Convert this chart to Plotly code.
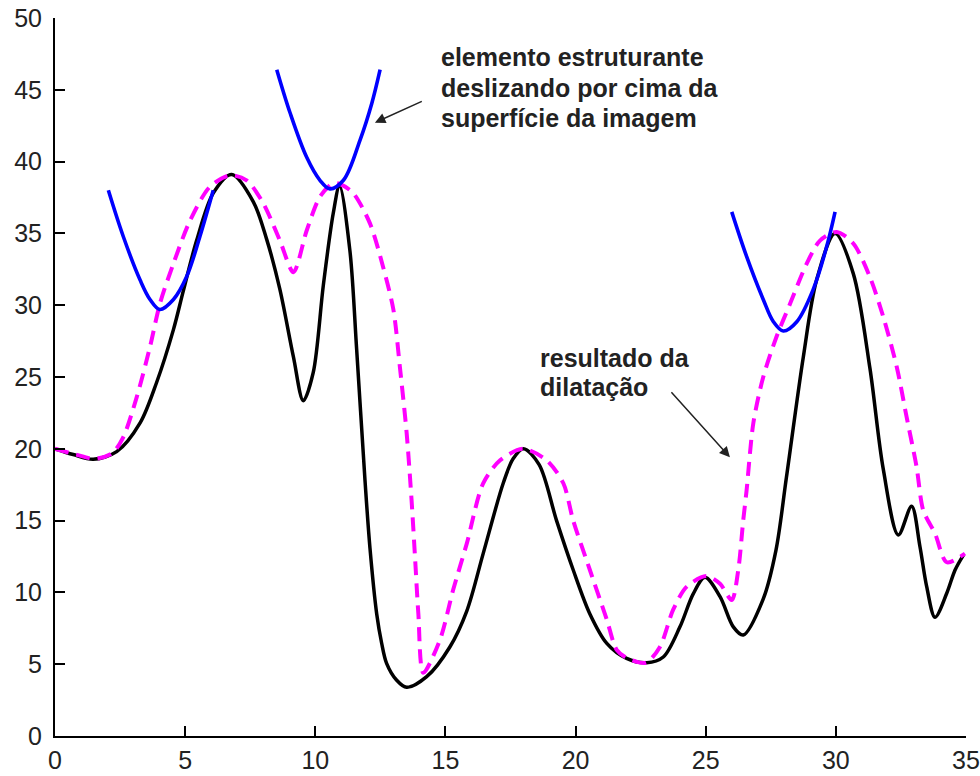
import plotly.graph_objects as go

# ---- original signal (black) ----
sig_x = [0, 0.7, 1.47, 2.37, 3.27, 3.9, 4.55, 4.93, 5.44, 6.08, 6.79, 7.62, 8.13, 8.64, 9.16, 9.54,
         9.92, 10.31, 10.69, 10.93, 11.33, 11.59, 11.91, 12.1, 12.36, 12.55, 12.74, 13.12, 13.51, 14.28,
         15.17, 15.82, 16.45, 17.22, 17.6, 18.0, 18.6, 19.27, 19.91, 20.55, 21.2, 21.96, 22.73, 23.37,
         24.01, 24.52, 24.97, 25.55, 26.06, 26.44, 27.2, 27.7, 28.1, 28.75, 29.26, 29.97, 30.67,
         31.31, 31.82, 32.4, 32.91, 33.23, 33.49, 33.81, 34.26, 34.58, 34.9]
sig_y = [20.0, 19.6, 19.27, 19.8, 21.8, 24.6, 28.3, 31.0, 34.5, 37.8, 39.1, 37.2, 34.6, 31.1, 26.4, 23.35,
         25.3, 31.4, 36.4, 38.3, 33.8, 26.9, 17.8, 13.1, 8.5, 6.46, 5.06, 3.9, 3.39, 4.13,
         6.2, 8.7, 12.7, 17.6, 19.3, 20.0, 18.9, 15.0, 11.56, 8.5, 6.45, 5.4, 5.1, 5.5,
         7.6, 9.9, 11.05, 9.7, 7.6, 7.03, 9.5, 12.95, 18.0, 26.4, 31.75, 35.0, 32.2,
         25.6, 18.6, 14.0, 16.0, 13.2, 10.4, 8.27, 9.94, 11.56, 12.6]

# ---- dilation result (magenta dashed) ----
dil_x = [0, 0.8, 1.5, 2.2, 2.62, 3.14, 3.65, 4.03, 4.55, 5.19, 5.95, 6.72, 7.36, 8.0, 8.64, 9.16,
         9.67, 10.18, 10.69, 11.0, 11.46, 12.1, 12.6, 13.0, 13.25, 13.51, 13.7, 13.83, 13.96, 14.15,
         14.79, 15.3, 15.82, 16.45, 17.1, 17.99, 18.89, 19.53, 19.91, 20.55, 21.2, 21.58, 22.0,
         22.7, 23.24, 23.75, 24.27, 25.03, 25.55, 26.0, 26.25, 26.44, 26.57, 26.83, 27.21, 27.72,
         28.24, 28.88, 29.39, 30.03, 30.67, 31.3, 31.82, 32.34, 32.72, 33.1, 33.36, 33.81, 34.26, 34.96]
dil_y = [20.0, 19.6, 19.3, 19.7, 20.8, 23.6, 27.1, 30.1, 32.9, 35.9, 38.25, 39.05, 38.7, 37.1, 34.5, 32.3,
         35.2, 37.55, 38.5, 38.4, 37.8, 35.7, 32.7, 29.7, 25.7, 21.1, 16.4, 12.5, 8.5, 4.4,
         6.7, 10.2, 13.4, 17.6, 19.2, 20.0, 19.2, 17.6, 15.0, 11.56, 8.1, 6.0, 5.4,
         5.1, 6.2, 8.8, 10.4, 11.14, 10.6, 9.47, 11.56, 15.0, 17.1, 21.8, 25.0, 27.8,
         30.1, 32.9, 34.5, 35.1, 34.3, 32.0, 29.2, 25.7, 22.2, 18.75, 15.7, 14.1, 12.1, 12.7]

# ---- structuring element (blue parabolas) ----
se1_x = [2.05, 2.62, 3.27, 3.65, 4.03, 4.55, 5.06, 5.57, 6.08]
se1_y = [38.0, 34.8, 31.75, 30.4, 29.7, 30.4, 32.0, 34.8, 38.0]
se2_x = [8.52, 9.03, 9.67, 10.18, 10.56, 11.08, 11.72, 12.17, 12.49]
se2_y = [46.4, 43.4, 40.3, 38.7, 38.1, 38.7, 41.5, 44.05, 46.4]
se3_x = [26.0, 26.57, 27.21, 27.6, 27.98, 28.5, 29.13, 29.65, 29.97]
se3_y = [36.5, 33.4, 30.4, 28.85, 28.2, 28.85, 31.1, 34.1, 36.5]

x_ticks = [0, 5, 10, 15, 20, 25, 30, 35]
y_ticks = [0, 5, 10, 15, 20, 25, 30, 35, 40, 45, 50]

label1_lines = ["elemento estruturante", "deslizando por cima da", "superfície da imagem"]
label2_lines = ["resultado da", "dilatação"]

fig = go.Figure()
fig.add_trace(go.Scatter(x=sig_x, y=sig_y, mode="lines",
                         line=dict(color="black", width=3.5, shape="spline", smoothing=0.9)))
fig.add_trace(go.Scatter(x=dil_x, y=dil_y, mode="lines",
                         line=dict(color="#FF00FF", width=4, dash="14px,8px", shape="spline", smoothing=0.8)))
for sx, sy in [(se1_x, se1_y), (se2_x, se2_y), (se3_x, se3_y)]:
    fig.add_trace(go.Scatter(x=sx, y=sy, mode="lines",
                             line=dict(color="#0000FF", width=3.6, shape="spline", smoothing=1.0)))

font_main = dict(family="Arial, Liberation Sans, sans-serif", size=25, color="#222")

for i, t in enumerate(label1_lines):
    fig.add_annotation(x=14.75, y=47.25 - i * 2.12, xref="x", yref="y", text="<b>" + t + "</b>",
                       showarrow=False, xanchor="left", yanchor="middle", align="left", font=font_main)
for i, t in enumerate(label2_lines):
    fig.add_annotation(x=18.55, y=26.3 - i * 2.0, xref="x", yref="y", text="<b>" + t + "</b>",
                       showarrow=False, xanchor="left", yanchor="middle", align="left", font=font_main)

fig.add_annotation(x=12.29, y=42.71, ax=14.15, ay=44.24, xref="x", yref="y", axref="x", ayref="y",
                   text="", showarrow=True, arrowhead=2, arrowsize=1.4, arrowwidth=1.5, arrowcolor="#222")
fig.add_annotation(x=25.93, y=19.41, ax=23.63, ay=24.05, xref="x", yref="y", axref="x", ayref="y",
                   text="", showarrow=True, arrowhead=2, arrowsize=1.4, arrowwidth=1.5, arrowcolor="#222")

axis_common = dict(showgrid=False, zeroline=False, showline=True, linecolor="black", linewidth=2,
                   ticks="inside", ticklen=10, tickwidth=2, tickcolor="black", automargin=False,
                   tickfont=dict(family="Arial, Liberation Sans, sans-serif", size=25, color="#222"))
fig.update_xaxes(range=[0, 35], tickvals=x_ticks, ticklabelstandoff=1, **axis_common)
fig.update_yaxes(range=[0, 50], tickvals=y_ticks, ticklabelstandoff=6, **axis_common)

fig.update_layout(width=980, height=776, showlegend=False,
                  paper_bgcolor="white", plot_bgcolor="white",
                  margin=dict(l=55, r=14, t=18, b=40))

fig.write_html("out.html")
